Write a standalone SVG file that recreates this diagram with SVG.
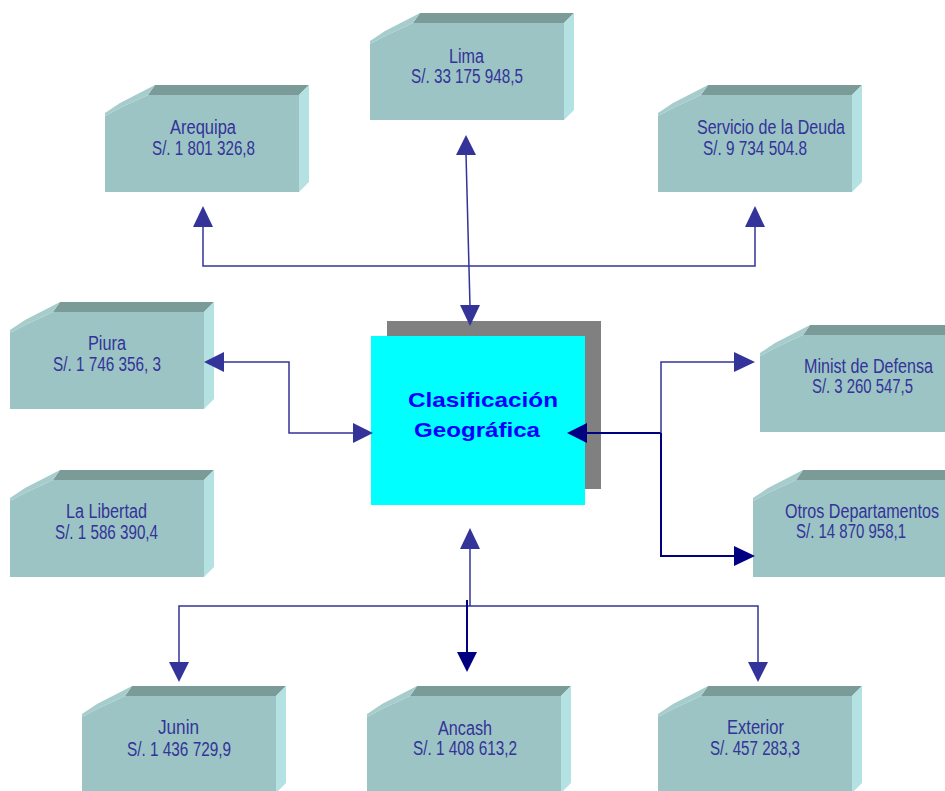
<svg xmlns="http://www.w3.org/2000/svg" xmlns:xlink="http://www.w3.org/1999/xlink" width="945" height="791" viewBox="0 0 945 791">
<style>
.front{fill:#9CC4C4}
.top{fill:#7B9B99}
.bevel{fill:#A6CDCB}
.side{fill:#B4E1E1}
.lbl{font-family:"Liberation Sans Narrow","Liberation Sans",Arial,sans-serif;font-size:20px;fill:#333399}
.ln{stroke:#333399;stroke-width:1.5;fill:none}
.lnd{stroke:#000080;stroke-width:2;fill:none}
.ah{fill:#333399}
.ahd{fill:#000080}
.ctr{font-family:"Liberation Sans",Arial,sans-serif;font-size:21px;font-weight:bold;fill:#0000FF}
</style>
<defs>
<g id="box">
<polygon class="front" points="0,31 17,22 43,10 194,10 194,107 0,107"/>
<polygon class="top" points="50,0 204,0 194,10 43,10"/>
<polygon class="bevel" points="0,28 15,18 50,0 43,10 17,22 0,31"/>
<polygon class="side" points="194,10 204,0 204,97 194,107"/>
</g>
</defs>
<rect width="945" height="791" fill="#FFFFFF"/>

<g id="node-center">
<rect x="387" y="321" width="214" height="168" fill="#808080"/>
<rect x="371" y="336" width="214" height="169" fill="#00FFFF"/>
<text class="ctr" x="408" y="407" textLength="150" lengthAdjust="spacingAndGlyphs">Clasificación</text>
<text class="ctr" x="414" y="437" textLength="126" lengthAdjust="spacingAndGlyphs">Geográfica</text>
</g>

<g id="node-lima">
<use xlink:href="#box" href="#box" transform="translate(370,13)"/>
<text class="lbl" x="449" y="63" textLength="35" lengthAdjust="spacingAndGlyphs">Lima</text>
<text class="lbl" x="411" y="83" textLength="112" lengthAdjust="spacingAndGlyphs">S/. 33 175 948,5</text>
</g>

<g id="node-arequipa">
<use xlink:href="#box" href="#box" transform="translate(105,85)"/>
<text class="lbl" x="170" y="134" textLength="66" lengthAdjust="spacingAndGlyphs">Arequipa</text>
<text class="lbl" x="152" y="155" textLength="103" lengthAdjust="spacingAndGlyphs">S/. 1 801 326,8</text>
</g>

<g id="node-servicio">
<use xlink:href="#box" href="#box" transform="translate(658,85)"/>
<text class="lbl" x="697" y="134" textLength="148" lengthAdjust="spacingAndGlyphs">Servicio de la Deuda</text>
<text class="lbl" x="703" y="155" textLength="104" lengthAdjust="spacingAndGlyphs">S/. 9 734 504.8</text>
</g>

<g id="node-piura">
<use xlink:href="#box" href="#box" transform="translate(10,302)"/>
<text class="lbl" x="88" y="350" textLength="38" lengthAdjust="spacingAndGlyphs">Piura</text>
<text class="lbl" x="53" y="371" textLength="108" lengthAdjust="spacingAndGlyphs">S/. 1 746 356, 3</text>
</g>

<g id="node-lalibertad">
<use xlink:href="#box" href="#box" transform="translate(10,470)"/>
<text class="lbl" x="66" y="518" textLength="81" lengthAdjust="spacingAndGlyphs">La Libertad</text>
<text class="lbl" x="55" y="539" textLength="103" lengthAdjust="spacingAndGlyphs">S/. 1 586 390,4</text>
</g>

<g id="node-minist">
<use xlink:href="#box" href="#box" transform="translate(760,325)"/>
<text class="lbl" x="804" y="373" textLength="129" lengthAdjust="spacingAndGlyphs">Minist de Defensa</text>
<text class="lbl" x="812" y="393" textLength="101" lengthAdjust="spacingAndGlyphs">S/. 3 260 547,5</text>
</g>

<g id="node-otros">
<use xlink:href="#box" href="#box" transform="translate(753,470)"/>
<text class="lbl" x="785" y="518" textLength="154" lengthAdjust="spacingAndGlyphs">Otros Departamentos</text>
<text class="lbl" x="796" y="538" textLength="110" lengthAdjust="spacingAndGlyphs">S/. 14 870 958,1</text>
</g>

<g id="node-junin">
<use xlink:href="#box" href="#box" transform="translate(82,686)"/>
<text class="lbl" x="158" y="734" textLength="41" lengthAdjust="spacingAndGlyphs">Junin</text>
<text class="lbl" x="127" y="756" textLength="104" lengthAdjust="spacingAndGlyphs">S/. 1 436 729,9</text>
</g>

<g id="node-ancash">
<use xlink:href="#box" href="#box" transform="translate(367,686)"/>
<text class="lbl" x="438" y="735" textLength="54" lengthAdjust="spacingAndGlyphs">Ancash</text>
<text class="lbl" x="413" y="755" textLength="104" lengthAdjust="spacingAndGlyphs">S/. 1 408 613,2</text>
</g>

<g id="node-exterior">
<use xlink:href="#box" href="#box" transform="translate(658,686)"/>
<text class="lbl" x="727" y="734" textLength="57" lengthAdjust="spacingAndGlyphs">Exterior</text>
<text class="lbl" x="710" y="755" textLength="90" lengthAdjust="spacingAndGlyphs">S/. 457 283,3</text>
</g>

<g id="connectors">
<line class="ln" x1="466" y1="154" x2="470" y2="306"/>
<polygon class="ah" points="466,135 456,155 476,155"/>
<polygon class="ah" points="470,326 460,305 480,305"/>
<polyline class="ln" points="203,226 203,266 755,266 755,226"/>
<polygon class="ah" points="203,206 193,227 213,227"/>
<polygon class="ah" points="755,206 745,227 765,227"/>
<polyline class="ln" points="223,362 289,362 289,433 353,433"/>
<polygon class="ah" points="204,362 224,352 224,372"/>
<polygon class="ah" points="373,433 353,423 353,443"/>
<line class="lnd" x1="586" y1="433" x2="661" y2="433"/>
<polygon class="ahd" points="567,433 587,423 587,443"/>
<polyline class="ln" points="735,362 661,362 661,433"/>
<polyline class="lnd" points="661,433 661,556 735,556"/>
<polygon class="ah" points="755,362 734,352 734,372"/>
<polygon class="ahd" points="755,556 734,546 734,566"/>
<line class="ln" x1="470" y1="548" x2="470" y2="606"/>
<polygon class="ah" points="470,528 460,549 480,549"/>
<polyline class="ln" points="179,662 179,606 758,606 758,662"/>
<polygon class="ah" points="179,682 169,662 189,662"/>
<polygon class="ah" points="758,682 748,662 768,662"/>
<line class="lnd" x1="467" y1="600" x2="467" y2="653"/>
<polygon class="ahd" points="467,672 457,652 477,652"/>
</g>
</svg>
